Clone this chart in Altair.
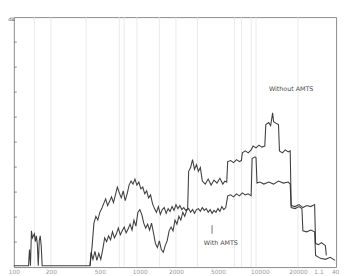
import altair as alt
import pandas as pd

# ---- data (x: sweep position units 0-330, y: level in 0-100 scale, 10 per division) ----
without_x = [0, 15, 16, 17, 18, 19, 21, 22, 23, 24, 25, 26, 27, 28, 29, 78,
             80, 82, 84, 86, 88, 90, 92, 94, 96, 98, 100, 102, 104, 106, 108, 110, 112, 114, 116, 118,
             120, 122, 124, 126, 128, 130, 132, 134, 136, 138, 140, 142, 144, 146, 148, 150, 152, 154,
             156, 158, 160, 162, 164, 166, 168, 170, 172, 174, 176, 178,
             179, 181, 183, 185, 187, 189, 191,
             193, 196, 199, 202, 205, 208, 211, 214, 216, 218,
             219, 222, 225, 228, 231, 233,
             234, 237, 240, 243,
             245, 248, 251, 254, 257,
             258, 261, 263, 265, 266, 269, 271,
             272, 275, 278, 281, 283,
             284, 288, 292, 296, 300, 304, 308,
             309, 312, 315, 319, 320]
without_y = [0.5, 0.5, 7.0, 0.5, 14.5, 11.7, 13.3, 10.2, 12.5, 9.4, 0.5, 10.5, 12.5, 8.6, 0.5, 0.5,
             7.8, 17.6, 20.3, 18.8, 21.9, 23.4, 25.4, 27.3, 24.6, 26.2, 28.1, 25.8, 28.9, 32.0, 29.7, 27.7, 30.5, 26.6,
             29.3, 32.8, 34.4, 33.2, 35.2, 32.8, 34.0, 31.3, 32.0, 29.3, 30.5, 27.7, 28.9, 25.4, 23.4, 21.9,
             24.2, 21.1, 23.0, 23.8, 21.5, 23.4, 22.3, 24.2, 22.7, 25.0, 23.4, 24.6, 23.0, 23.8, 22.7, 23.4,
             38.3, 39.8, 43.0, 39.1, 41.0, 38.3, 39.8,
             34.4, 33.2, 35.2, 32.8, 34.8, 33.6, 35.5, 33.2, 34.4, 34.0,
             42.2, 42.6, 41.8, 43.0, 42.2, 42.6,
             45.7, 46.5, 45.7, 46.9,
             48.4, 47.7, 48.8, 48.0, 48.4,
             57.0, 57.8, 56.6, 61.7, 58.2, 57.4, 57.0,
             46.5, 45.7, 46.9, 46.1, 46.5,
             24.6, 24.2, 25.0, 23.8, 24.6, 24.2, 25.0,
             9.4, 9.0, 9.8, 8.6, 4.7]

with_x = [78, 79, 81, 83, 85, 87, 89, 91, 93, 95, 97, 99, 101, 103, 105, 107, 109, 111, 113, 115,
          117, 119, 121, 123, 125, 127, 129, 131, 133, 135, 137, 139, 141, 143, 145, 147, 149, 151,
          153, 155, 157, 159, 161, 163, 165, 167, 169, 171, 173, 175, 177, 179, 181, 183, 185, 187,
          189, 191, 193, 195, 197, 199, 201, 203, 205, 207, 209, 211, 213, 215, 217,
          219, 222, 225, 228, 231, 234, 237, 240, 243,
          244, 247, 248,
          249, 252, 256, 261, 266, 271, 276, 281, 283,
          284, 288, 292, 295,
          296, 300, 304, 308,
          309, 314, 319, 324, 329]
with_y = [0.5, 5.9, 3.1, 6.3, 2.7, 5.5, 3.1, 7.0, 11.7, 10.2, 12.5, 10.9, 14.1, 11.7, 13.3, 15.6, 12.9, 14.5, 16.0, 13.7,
          15.2, 17.2, 14.8, 18.8, 16.4, 21.9, 23.0, 21.1, 17.6, 15.6, 17.2, 14.8, 17.6, 13.7, 9.4, 7.8, 10.5, 7.0,
          5.9, 8.6, 10.5, 14.5, 16.0, 14.5, 18.8, 17.2, 20.3, 18.8, 21.9, 20.3, 22.7, 23.4, 21.9, 23.0, 21.5, 23.0,
          23.4, 22.3, 23.8, 22.7, 23.4, 21.9, 23.0, 21.5, 22.7, 21.9, 23.4, 22.3, 24.2, 23.0, 23.8,
          28.5, 28.9, 28.1, 29.3, 28.5, 29.7, 28.9, 29.3, 28.5,
          43.4, 44.1, 43.75,
          33.6, 34.0, 33.2, 34.0, 33.2, 34.4, 33.6, 34.0, 33.2,
          23.8, 23.4, 24.2, 23.4,
          14.5, 14.1, 14.8, 14.1,
          4.7, 3.5, 3.1, 3.9, 2.7]

y_ticks = [10, 20, 30, 40, 50, 60, 70, 80, 90]
grid_x = [21, 38, 74, 108, 113, 126, 149, 166, 188, 226, 233, 243, 248, 291]
x_tick_pos = [0, 38, 88, 129, 166, 209, 252, 291, 312, 329]
x_tick_lab = ["100", "200", "500", "1000", "2000", "5000", "10000", "20000", "1.1", "40"]

ann_text = ["Without AMTS", "With AMTS"]
ann_x = [284, 212]
ann_y = [71.1, 9.8]
unit_text = ["dB"]
unit_x = [-5.8]
unit_y = [99.4]

# ---- build tables ----
rows = []
for i, (x, y) in enumerate(zip(without_x, without_y)):
    rows.append({"series": "Without AMTS", "x": x, "y": y, "i": i})
for i, (x, y) in enumerate(zip(with_x, with_y)):
    rows.append({"series": "With AMTS", "x": x, "y": y, "i": i})
df = pd.DataFrame(rows)

xs = alt.Scale(domain=[0, 330], nice=False, zero=False)
ys = alt.Scale(domain=[0, 100], nice=False, zero=False)

label_expr = ("[" + ",".join("'%s'" % s for s in x_tick_lab) + "][indexof(["
              + ",".join(str(v) for v in x_tick_pos) + "], datum.value)]")
xaxis = alt.Axis(values=x_tick_pos, grid=False, domain=False, ticks=False,
                 labelFontSize=6, labelColor="#999", labelPadding=2, labelFont="DejaVu Sans",
                 labelOverlap=False, labelFlush=False, labelExpr=label_expr, title=None)
yaxis = alt.Axis(grid=False, domain=False, ticks=False, labels=False, title=None)

grid = alt.Chart(pd.DataFrame({"x": grid_x})).mark_rule(color="#e4e4e4", strokeWidth=0.8).encode(
    x=alt.X("x:Q", scale=xs, axis=xaxis)
)

ticks = alt.Chart(pd.DataFrame({"y": y_ticks, "x0": [0] * len(y_ticks), "x1": [3] * len(y_ticks)})).mark_rule(
    color="#888", strokeWidth=1
).encode(
    x=alt.X("x0:Q", scale=xs, axis=xaxis), x2="x1:Q",
    y=alt.Y("y:Q", scale=ys, axis=yaxis)
)

lines = alt.Chart(df).mark_line(color="#2b2b2b", strokeWidth=1.1, opacity=0.9).encode(
    x=alt.X("x:Q", scale=xs, axis=xaxis),
    y=alt.Y("y:Q", scale=ys, axis=yaxis),
    detail="series:N",
    order="i:Q",
)

pointer = alt.Chart(pd.DataFrame({"x": [203], "y1": [13.3], "y2": [16.8]})).mark_rule(
    color="#555", strokeWidth=0.8
).encode(x=alt.X("x:Q", scale=xs, axis=xaxis), y=alt.Y("y1:Q", scale=ys, axis=yaxis), y2="y2:Q")

ann = alt.Chart(pd.DataFrame({"t": ann_text, "x": ann_x, "y": ann_y})).mark_text(
    fontSize=6.5, fill="#4a4a4a", font="DejaVu Sans", baseline="middle", align="center"
).encode(x=alt.X("x:Q", scale=xs, axis=xaxis), y=alt.Y("y:Q", scale=ys, axis=yaxis), text="t:N")

unit = alt.Chart(pd.DataFrame({"t": unit_text, "x": unit_x, "y": unit_y})).mark_text(
    fontSize=5, fill="#555", font="DejaVu Sans", baseline="middle", align="left"
).encode(x=alt.X("x:Q", scale=xs, axis=xaxis), y=alt.Y("y:Q", scale=ys, axis=yaxis), text="t:N")

chart = alt.layer(grid, ticks, lines, pointer, ann, unit).properties(
    width=330, height=256,
    autosize=alt.AutoSizeParams(type="none"),
    padding={"left": 6, "top": 6, "right": 4, "bottom": 14},
    background="white",
).configure_view(stroke="#8a8a8a", strokeWidth=1).configure_axisX(labelOverlap=False)

chart.save("out.html", embed_options={"renderer": "svg", "actions": False})
